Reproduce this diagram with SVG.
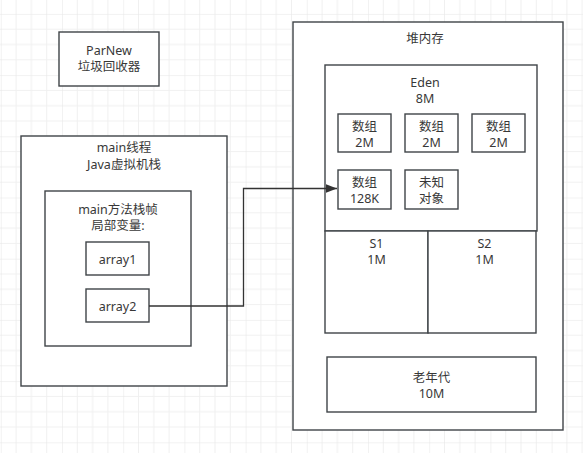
<svg xmlns="http://www.w3.org/2000/svg" width="583" height="453" viewBox="0 0 583 453">
<defs>
<pattern id="grid" x="0.8" y="13.9" width="61.2" height="61.2" patternUnits="userSpaceOnUse">
<path d="M15.3 0V61.2M30.6 0V61.2M45.9 0V61.2M0 15.3H61.2M0 30.6H61.2M0 45.9H61.2" stroke="#f0f0f0" stroke-width="1" fill="none"/>
<path d="M0 0V61.2M0 0H61.2" stroke="#e6e6e6" stroke-width="1" fill="none"/>
</pattern>
<marker id="arrow" markerWidth="12" markerHeight="10" refX="11.5" refY="4.5" orient="auto" markerUnits="userSpaceOnUse">
<path d="M0 0L11.5 4.5L0 9Z" fill="#333"/>
</marker>
<style>
.box{fill:#fff;stroke:#3f4448;stroke-width:1.4}
.t{font-family:"Noto Sans","Noto Sans CJK SC",sans-serif;font-size:12.5px;fill:#383838;text-anchor:middle}
.edge{fill:none;stroke:#333;stroke-width:1.3}
</style>
</defs>
<rect width="583" height="453" fill="#fff"/>
<rect width="583" height="453" fill="url(#grid)"/>

<g id="parnew">
<rect class="box" x="59" y="32" width="100" height="54"/>
<text class="t" x="109" y="55">ParNew</text>
<text class="t" x="109" y="71">垃圾回收器</text>
</g>

<g id="main-thread">
<rect class="box" x="21" y="136" width="206" height="250"/>
<text class="t" x="124" y="152">main线程</text>
<text class="t" x="124" y="169">Java虚拟机栈</text>
</g>

<g id="main-frame">
<rect class="box" x="45" y="191" width="146" height="155"/>
<text class="t" x="118" y="214">main方法栈帧</text>
<text class="t" x="118" y="230">局部变量:</text>
</g>

<g id="array1">
<rect class="box" x="86" y="242" width="63" height="33"/>
<text class="t" x="117.5" y="264">array1</text>
</g>

<g id="array2">
<rect class="box" x="86" y="289" width="63" height="33"/>
<text class="t" x="117.5" y="311">array2</text>
</g>

<g id="heap">
<rect class="box" x="293" y="22" width="270" height="408"/>
<text class="t" x="425" y="43">堆内存</text>
</g>

<g id="eden">
<rect class="box" x="325" y="65" width="212" height="166"/>
<text class="t" x="425" y="87">Eden</text>
<text class="t" x="425" y="103">8M</text>
</g>

<g id="arr-a">
<rect class="box" x="338" y="114" width="53" height="38"/>
<text class="t" x="364.5" y="130.5">数组</text>
<text class="t" x="364.5" y="146.5">2M</text>
</g>
<g id="arr-b">
<rect class="box" x="405" y="114" width="53" height="38"/>
<text class="t" x="431.5" y="130.5">数组</text>
<text class="t" x="431.5" y="146.5">2M</text>
</g>
<g id="arr-c">
<rect class="box" x="472" y="114" width="53" height="38"/>
<text class="t" x="498.5" y="130.5">数组</text>
<text class="t" x="498.5" y="146.5">2M</text>
</g>
<g id="arr-d">
<rect class="box" x="338" y="170" width="53" height="39"/>
<text class="t" x="364.5" y="186.5">数组</text>
<text class="t" x="364.5" y="202.5">128K</text>
</g>
<g id="unknown">
<rect class="box" x="405" y="170" width="53" height="39"/>
<text class="t" x="431.5" y="186.5">未知</text>
<text class="t" x="431.5" y="202.5">对象</text>
</g>

<g id="s1">
<rect class="box" x="325" y="231" width="103" height="102"/>
<text class="t" x="376.5" y="248">S1</text>
<text class="t" x="376.5" y="264">1M</text>
</g>
<g id="s2">
<rect class="box" x="428" y="231" width="108" height="102"/>
<text class="t" x="484.5" y="248">S2</text>
<text class="t" x="484.5" y="264">1M</text>
</g>

<g id="old">
<rect class="box" x="327" y="357" width="209" height="55"/>
<text class="t" x="431.5" y="382">老年代</text>
<text class="t" x="431.5" y="398">10M</text>
</g>

<g id="connectors">
<path class="edge" d="M149 306H243.5V188.5H337" marker-end="url(#arrow)"/>
</g>
</svg>
